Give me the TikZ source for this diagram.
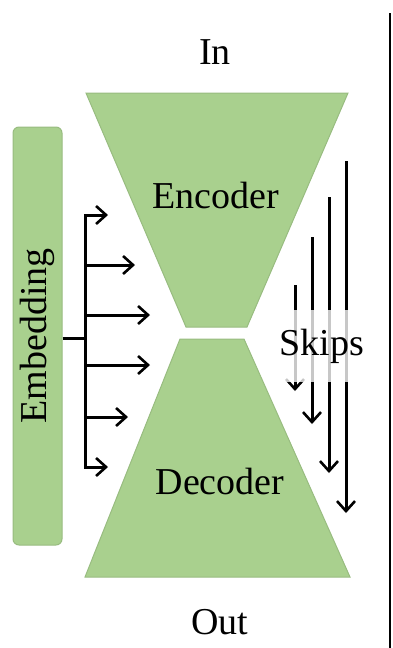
\documentclass[tikz,border=0pt]{standalone}
\usepackage{fontspec}
\setmainfont{Liberation Serif}
\usepackage{graphicx}
\usetikzlibrary{arrows.meta}
\definecolor{boxgreen}{HTML}{A9D08E}
\definecolor{boxedge}{HTML}{98BC80}
\tikzset{
  shapefill/.style={fill=boxgreen, draw=boxedge, line width=1pt},
  lbl/.style={font=\fontsize{38}{40}\selectfont, inner sep=0pt},
  arr/.style={line width=3pt, -{Straight Barb[length=10pt,width=18pt,line width=2.6pt]}},
  trunk/.style={line width=3pt}
}
\begin{document}
\begin{tikzpicture}[x=1pt,y=-1pt]
\useasboundingbox (0,0) rectangle (393,648);
% trapezoids
\draw[shapefill] (86,93) -- (348,93) -- (247,327) -- (186,327) -- cycle;
\draw[shapefill] (180,339) -- (244,339) -- (350,577) -- (85,577) -- cycle;
\node[lbl] (in) at (215,52) {In};
\node[lbl] (enc) at (216,195) {Encoder};
\node[lbl] (dec) at (220,481) {Decoder};
\node[lbl] (out) at (220,622) {Out};
% embedding box
\node[shapefill, rounded corners=6pt, minimum width=49pt, minimum height=418pt, inner sep=0pt] (emb) at (37.5,336) {\fontsize{38}{40}\selectfont\rotatebox{90}{Embedding}};
\coordinate (j) at (85,338);
\coordinate (e1) at (108,215);
\coordinate (e2) at (135,265);
\coordinate (e3) at (150,315);
\coordinate (e4) at (150,365);
\coordinate (e5) at (128,417);
\coordinate (e6) at (108,467);
\draw[trunk] (emb.east |- j) -- (j);
\draw[arr] (j) |- (e1);
\draw[arr] (j) |- (e6);
\draw[arr] (e2 -| j) -- (e2);
\draw[arr] (e3 -| j) -- (e3);
\draw[arr] (e4 -| j) -- (e4);
\draw[arr] (e5 -| j) -- (e5);
% skips
\coordinate (s1a) at (295,285); \coordinate (s1b) at (295,391);
\coordinate (s2a) at (312,237); \coordinate (s2b) at (312,424);
\coordinate (s3a) at (329,197); \coordinate (s3b) at (329,473);
\coordinate (s4a) at (346,161); \coordinate (s4b) at (346,513);
\draw[arr] (s1a) -- (s1b);
\draw[arr] (s2a) -- (s2b);
\draw[arr] (s3a) -- (s3b);
\draw[arr] (s4a) -- (s4b);
\node[lbl, fill=white, fill opacity=0.78, text opacity=1, minimum height=72pt, minimum width=70pt] (skips) at (322,346) {Skips};
% right rule
\coordinate (rt) at (390,13);
\coordinate (rb) at (390,648);
\draw[line width=2pt] (rt) -- (rb);
\end{tikzpicture}
\end{document}
